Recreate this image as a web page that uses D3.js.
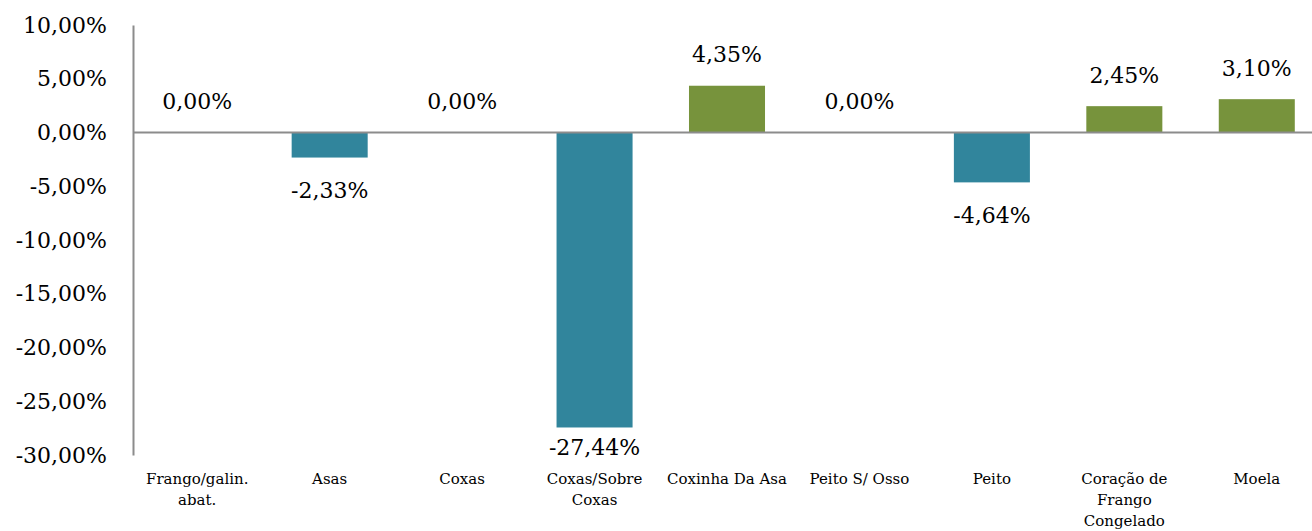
<!DOCTYPE html>
<html>
<head>
<meta charset="utf-8">
<script src="https://cdn.jsdelivr.net/npm/d3@7/dist/d3.min.js"></script>
<style>
body{margin:0;background:#fff;}
svg{display:block;}
</style>
</head>
<body>
<svg id="chart" width="1312" height="531"></svg>
<script>
const categories = [["Frango/galin.","abat."],["Asas"],["Coxas"],["Coxas/Sobre","Coxas"],["Coxinha Da Asa"],["Peito S/ Osso"],["Peito"],["Coração de","Frango","Congelado"],["Moela"]];
const values = [0.00, -2.33, 0.00, -27.44, 4.35, 0.00, -4.64, 2.45, 3.10];
const tickValues = [10, 5, 0, -5, -10, -15, -20, -25, -30];

const fmt = v => v.toFixed(2).replace(".", ",") + "%";
const svg = d3.select("#chart");
const ids = categories.map((c,i)=>i);
const x = d3.scaleBand().domain(ids).range([131, 1323]).paddingInner(0.426).paddingOuter(0.213);
const y = d3.scaleLinear().domain([-30, 10]).range([455, 25]);
const serif = "'DejaVu Serif', serif";

// bars
svg.selectAll("rect.bar").data(values).enter().append("rect")
  .attr("x",(d,i)=>x(i)).attr("width",x.bandwidth())
  .attr("y",d=>y(Math.max(0,d))).attr("height",d=>Math.abs(y(d)-y(0)))
  .attr("fill",d=>d<0?"#31859C":"#77933C");

// zero line
svg.append("line").attr("x1",133).attr("x2",1312).attr("y1",y(0)).attr("y2",y(0))
  .attr("stroke","#8c8c8c").attr("stroke-width",2);

// y axis
const yAxis = d3.axisLeft(y).tickValues(tickValues).tickSize(0).tickPadding(26).tickFormat(fmt);
const ga = svg.append("g").attr("transform","translate(133,0)").call(yAxis);
ga.select(".domain").attr("stroke","#8c8c8c").attr("stroke-width",2);
ga.selectAll("text").attr("font-family",serif).attr("font-size","22px").attr("fill","#000");

// data labels
svg.selectAll("text.lbl").data(values).enter().append("text")
  .attr("x",(d,i)=>x(i)+x.bandwidth()/2)
  .attr("y",d=> d<0 ? Math.min(y(d)+33, 447) : y(d)-31)
  .attr("dy","0.35em").attr("text-anchor","middle")
  .attr("font-family",serif).attr("font-size","22px").attr("fill","#000")
  .text(fmt);

// category labels
const cl = svg.selectAll("text.cat").data(categories).enter().append("text")
  .attr("x",(d,i)=>x(i)+x.bandwidth()/2).attr("y",479)
  .attr("text-anchor","middle").attr("font-family",serif).attr("font-size","15px").attr("fill","#000");
cl.selectAll("tspan").data(d=>d).enter().append("tspan")
  .attr("x",function(){return this.parentNode.getAttribute("x");})
  .attr("dy",(d,i)=>i===0?"0.35em":"21px").text(d=>d);
</script>
</body>
</html>
